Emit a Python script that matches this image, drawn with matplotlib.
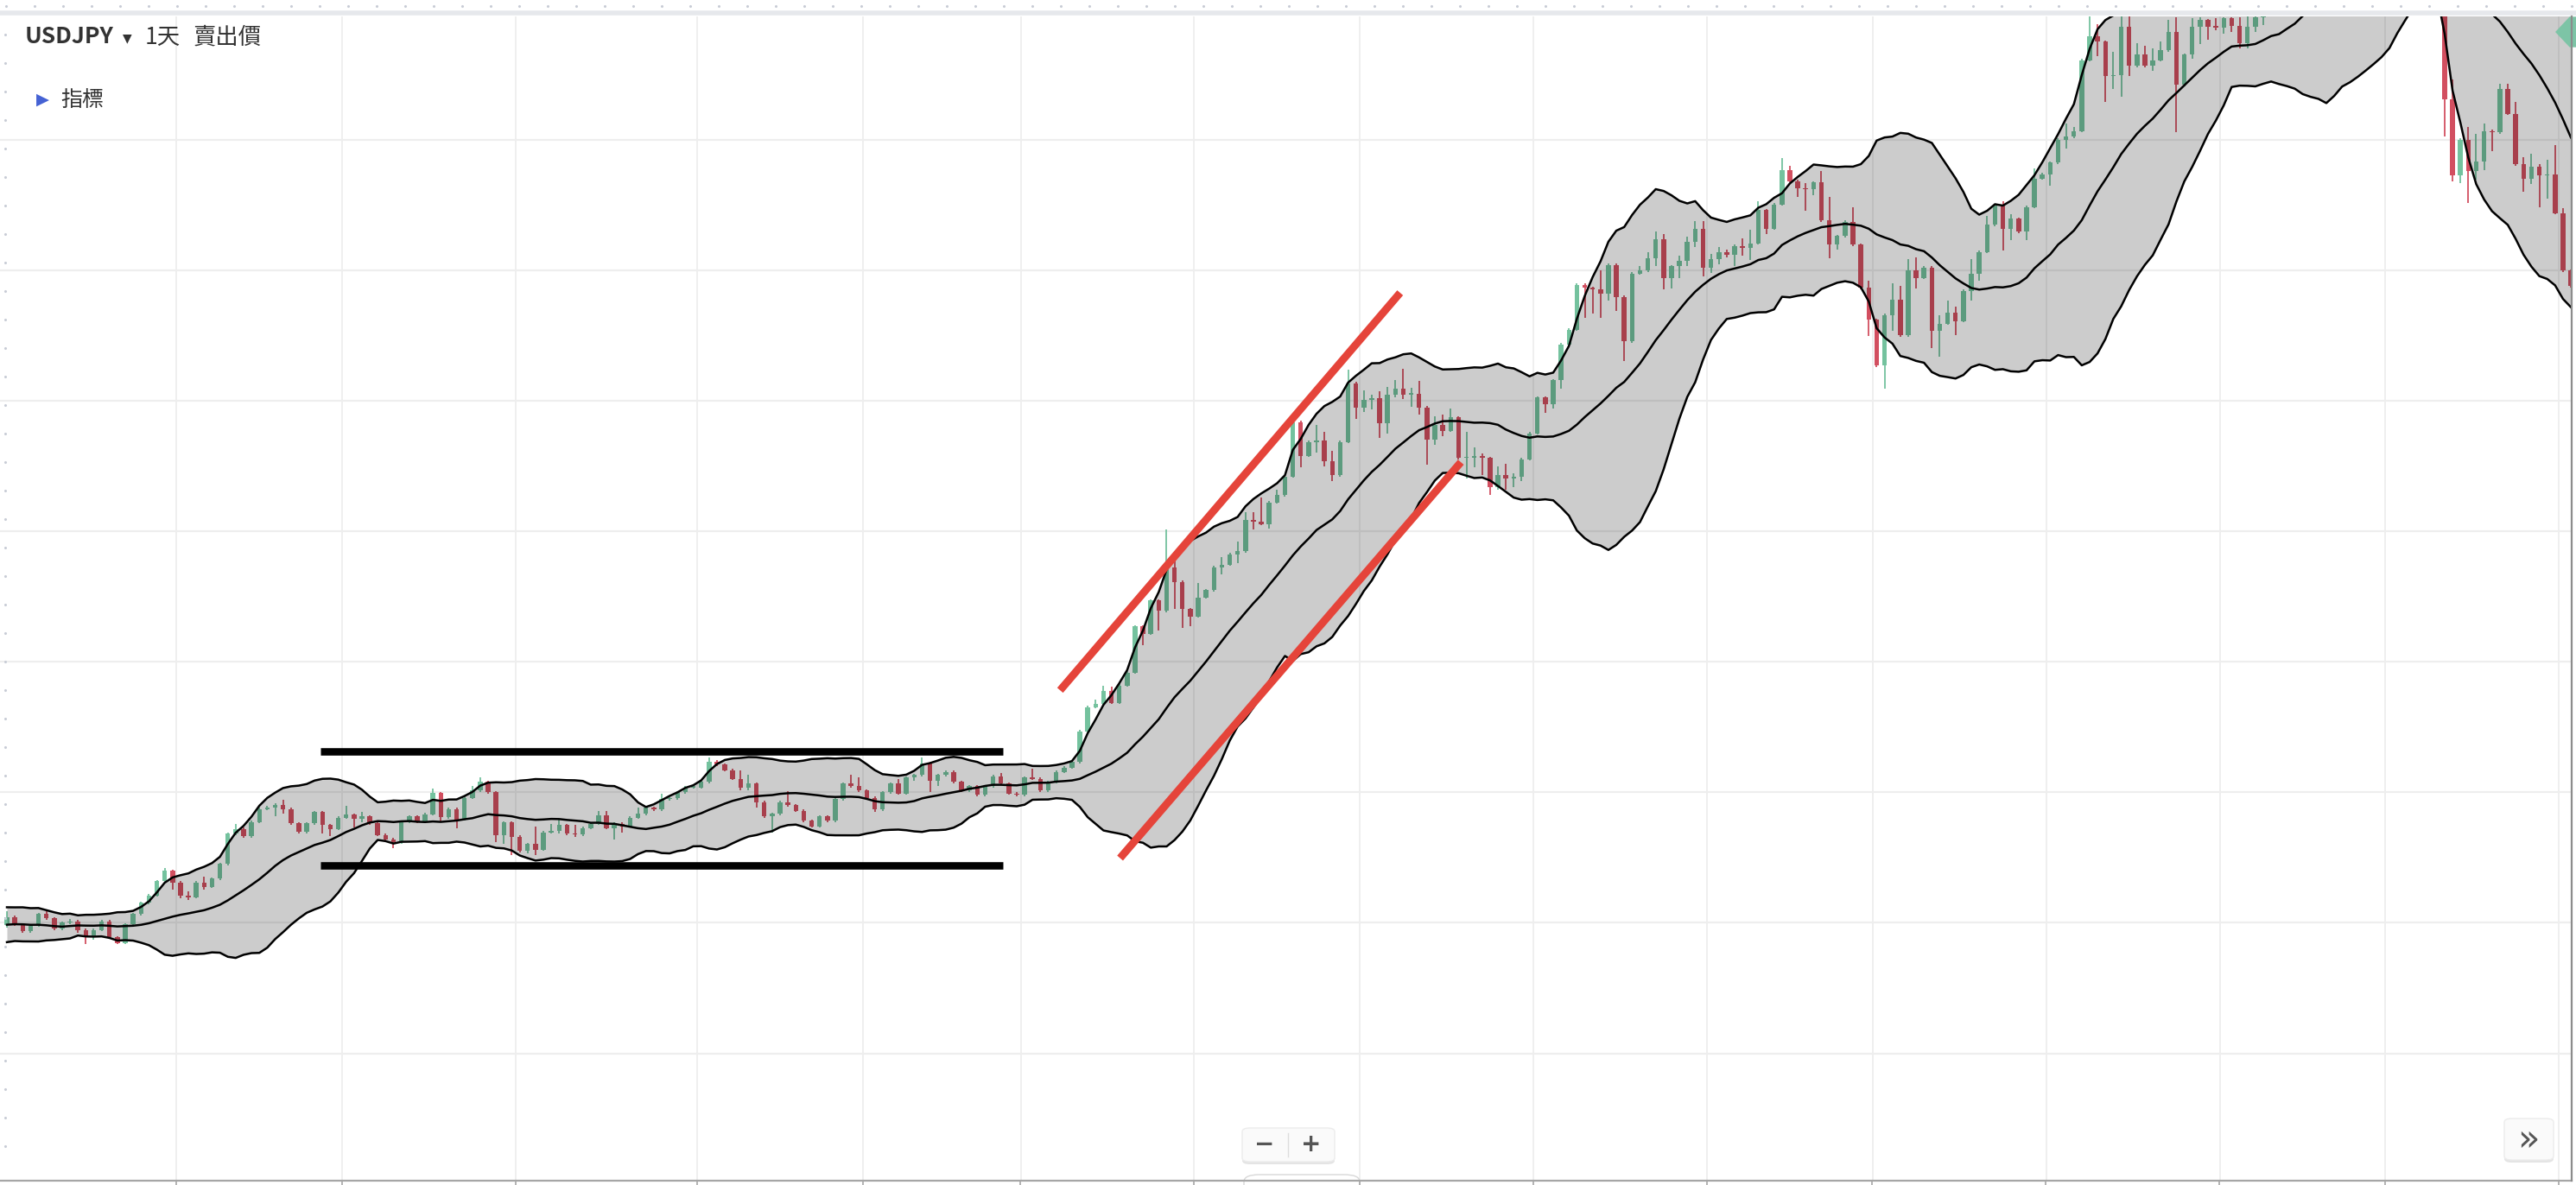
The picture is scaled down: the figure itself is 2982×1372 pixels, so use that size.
import numpy as np
import pandas as pd
import matplotlib
matplotlib.use("Agg")
import matplotlib.pyplot as plt
from matplotlib.patches import FancyBboxPatch, Polygon
from matplotlib.lines import Line2D

plt.rcParams['font.family'] = ['Noto Sans CJK TC', 'DejaVu Sans']

# USDJPY daily closes, index 0 = first visible candle (Sep 2021)
warmup_closes = [109.55, 109.78, 110.25, 110.30, 110.58, 110.42, 110.38, 109.60, 109.25, 109.60,
                 109.78, 109.80, 109.78, 109.72, 109.70, 110.02, 110.08, 109.85, 109.90]

closes = [
    110.22, 109.94, 109.67, 109.89, 110.33, 110.17, 109.78, 110.00, 110.06, 109.72,
    109.45, 109.72, 110.06, 109.45, 109.23, 109.94, 110.33, 110.77, 111.05, 111.60,
    111.99, 111.55, 111.05, 110.99, 111.55, 111.38, 111.69, 112.26, 113.42, 113.59,
    113.31, 113.86, 114.36, 114.42, 114.53, 114.36, 113.81, 113.48, 113.81, 114.25,
    113.75, 113.59, 114.03, 114.14, 113.97, 114.08, 113.81, 113.37, 113.20, 113.09,
    113.86, 114.08, 113.86, 114.16, 114.97, 114.05, 114.35, 113.96, 114.79, 115.07,
    115.40, 115.01, 113.36, 113.85, 113.30, 112.75, 113.02, 112.80, 113.47, 113.52,
    113.74, 113.41, 113.38, 113.63, 113.80, 114.13, 113.63, 113.80, 113.69, 114.02,
    114.18, 114.40, 114.35, 114.74, 114.77, 115.01, 115.18, 115.18, 115.40, 116.17,
    116.06, 115.84, 115.51, 115.18, 115.34, 114.62, 114.07, 114.18, 114.62, 114.51,
    114.29, 113.91, 113.69, 114.07, 113.91, 114.74, 115.34, 115.23, 115.07, 114.79,
    114.35, 115.01, 115.34, 114.96, 115.56, 115.67, 116.11, 115.45, 115.67, 115.78,
    115.40, 115.07, 115.23, 114.90, 115.23, 115.62, 115.34, 114.96, 114.90, 115.56,
    115.51, 115.07, 115.40, 115.78, 115.95, 116.17, 117.33, 118.27, 118.38, 118.87,
    118.43, 119.09, 119.59, 121.36, 121.08, 122.35, 121.96, 123.62, 123.07, 122.02,
    121.74, 122.46, 122.74, 123.62, 123.73, 124.12, 124.23, 125.44, 125.36, 125.28,
    126.10, 126.38, 127.10, 129.19, 127.90, 128.42, 128.48, 127.70, 127.15, 128.42,
    130.68, 129.75, 130.02, 130.10, 129.14, 130.24, 130.46, 130.24, 130.28, 129.75,
    128.53, 129.08, 128.86, 129.36, 127.81, 127.81, 127.87, 127.81, 126.71, 127.15,
    127.04, 127.10, 127.76, 128.75, 130.13, 129.86, 130.79, 132.17, 132.73, 134.44,
    134.33, 134.27, 134.11, 135.20, 133.99, 132.28, 134.88, 134.99, 135.48, 136.20,
    134.71, 135.15, 135.37, 136.10, 136.60, 135.10, 135.43, 135.70, 135.60, 135.93,
    135.85, 136.04, 137.31, 136.60, 137.53, 138.85, 138.41, 138.13, 138.10, 138.36,
    136.92, 135.98, 136.31, 136.86, 135.98, 134.33, 133.11, 131.35, 133.28, 133.89,
    132.51, 134.99, 134.71, 135.10, 132.67, 132.95, 133.39, 133.06, 134.22, 134.88,
    135.71, 136.75, 137.47, 136.60, 136.98, 136.49, 137.42, 138.52, 138.69, 139.13,
    140.01, 140.12, 140.34, 143.05, 143.98, 143.76, 142.44, 142.49, 144.32, 142.83,
    143.27, 142.83, 143.05, 143.43, 144.15, 142.11, 143.27, 144.32, 144.59, 144.32,
    144.30, 144.65, 144.37, 143.71, 144.32, 144.70, 145.30, 145.70, 145.80, 146.90,
    147.20, 148.70, 148.90, 149.20, 149.90, 150.20, 147.60, 149.00, 148.00, 146.40,
    146.30, 147.50, 148.70, 148.20, 147.90, 148.30, 146.60, 146.60, 146.40, 141.56,
    138.63, 140.01, 138.80, 139.18, 140.34, 140.29, 141.94, 141.00, 139.07, 138.52,
    138.96, 138.63, 138.69, 137.20, 134.99, 134.40,
]

# wick length above / below the body (yen)
wick_up = [
    0.22, 0.05, 0.05, 0.05, 0.05, 0.10, 0.05, 0.05, 0.10, 0.05,
    0.05, 0.05, 0.05, 0.05, 0.05, 0.05, 0.05, 0.05, 0.05, 0.05,
    0.10, 0.05, 0.05, 0.17, 0.05, 0.22, 0.05, 0.05, 0.05, 0.20,
    0.05, 0.05, 0.05, 0.05, 0.05, 0.19, 0.05, 0.05, 0.05, 0.05,
    0.05, 0.05, 0.05, 0.33, 0.05, 0.17, 0.05, 0.05, 0.05, 0.05,
    0.05, 0.05, 0.05, 0.05, 0.17, 0.05, 0.05, 0.05, 0.05, 0.17,
    0.17, 0.05, 0.05, 0.05, 0.05, 0.05, 0.05, 0.66, 0.05, 0.28,
    0.22, 0.05, 0.33, 0.05, 0.05, 0.14, 0.14, 0.05, 0.05, 0.05,
    0.22, 0.05, 0.05, 0.19, 0.05, 0.05, 0.05, 0.05, 0.05, 0.17,
    0.05, 0.05, 0.05, 0.33, 0.33, 0.05, 0.05, 0.05, 0.05, 0.44,
    0.05, 0.05, 0.05, 0.05, 0.05, 0.05, 0.05, 0.33, 0.33, 0.05,
    0.05, 0.05, 0.05, 0.17, 0.05, 0.05, 0.22, 0.05, 0.05, 0.05,
    0.05, 0.05, 0.05, 0.05, 0.05, 0.05, 0.11, 0.05, 0.05, 0.05,
    0.33, 0.05, 0.05, 0.05, 0.05, 0.05, 0.05, 0.05, 0.17, 0.22,
    0.17, 0.05, 0.05, 0.05, 0.05, 0.05, 0.05, 1.44, 0.33, 0.05,
    0.05, 0.55, 0.05, 0.05, 0.28, 0.05, 0.39, 0.28, 0.28, 0.94,
    0.05, 0.22, 0.05, 0.17, 0.05, 0.05, 0.61, 0.33, 0.39, 0.05,
    0.50, 0.05, 0.39, 0.14, 0.28, 0.28, 0.33, 0.77, 0.22, 0.50,
    0.05, 0.33, 0.39, 0.33, 0.05, 1.00, 0.36, 0.11, 0.05, 0.33,
    0.44, 0.11, 0.05, 0.05, 0.05, 0.05, 0.05, 0.05, 0.05, 0.05,
    0.05, 0.05, 0.72, 0.05, 0.05, 0.05, 0.05, 0.17, 0.20, 0.30,
    0.20, 0.05, 0.20, 0.20, 0.30, 0.30, 0.20, 0.20, 0.10, 0.05,
    0.30, 0.50, 0.33, 0.05, 0.05, 0.44, 0.17, 0.05, 0.20, 0.05,
    0.44, 0.88, 0.05, 0.05, 0.55, 0.05, 0.28, 0.05, 0.05, 0.61,
    0.50, 0.44, 0.50, 0.05, 0.05, 0.33, 0.44, 0.22, 0.05, 0.55,
    0.05, 0.33, 0.05, 0.17, 0.17, 0.05, 0.05, 0.39, 0.05, 0.05,
    0.05, 0.50, 0.17, 0.05, 0.77, 0.44, 0.05, 0.88, 0.44, 0.44,
    0.44, 0.33, 0.44, 0.33, 0.44, 0.55, 0.05, 0.33, 0.11, 0.05,
    0.33, 0.05, 0.05, 0.33, 0.44, 0.20, 0.30, 0.30, 0.30, 0.30,
    0.30, 0.30, 0.30, 0.30, 0.30, 1.70, 0.30, 0.30, 0.30, 0.30,
    0.30, 0.30, 0.30, 0.30, 0.30, 0.30, 0.30, 0.30, 0.30, 0.30,
    0.77, 0.05, 0.50, 1.05, 0.28, 0.05, 0.22, 0.22, 0.44, 0.28,
    0.50, 0.11, 0.55, 1.10, 0.17, 0.05,
]
wick_dn = [
    0.10, 0.05, 0.05, 0.05, 0.05, 0.05, 0.05, 0.05, 0.05, 0.10,
    0.27, 0.10, 0.05, 0.05, 0.05, 0.05, 0.05, 0.05, 0.05, 0.05,
    0.05, 0.27, 0.10, 0.10, 0.05, 0.11, 0.05, 0.05, 0.05, 0.05,
    0.05, 0.05, 0.05, 0.05, 0.33, 0.17, 0.05, 0.05, 0.05, 0.05,
    0.33, 0.27, 0.05, 0.05, 0.33, 0.11, 0.05, 0.05, 0.05, 0.22,
    0.05, 0.05, 0.05, 0.05, 0.05, 0.17, 0.05, 0.33, 0.05, 0.05,
    0.05, 0.05, 0.28, 0.33, 0.72, 0.05, 0.10, 0.22, 0.05, 0.05,
    0.11, 0.05, 0.08, 0.05, 0.05, 0.05, 0.05, 0.44, 0.22, 0.05,
    0.05, 0.05, 0.05, 0.05, 0.05, 0.05, 0.05, 0.05, 0.05, 0.05,
    0.05, 0.05, 0.05, 0.11, 0.11, 0.22, 0.05, 0.60, 0.05, 0.05,
    0.05, 0.05, 0.05, 0.05, 0.05, 0.05, 0.05, 0.05, 0.05, 0.05,
    0.10, 0.05, 0.05, 0.05, 0.05, 0.11, 0.05, 0.44, 0.22, 0.05,
    0.05, 0.05, 0.05, 0.05, 0.05, 0.05, 0.05, 0.05, 0.05, 0.05,
    0.05, 0.05, 0.05, 0.05, 0.05, 0.05, 0.05, 0.05, 0.05, 0.05,
    0.05, 0.05, 0.05, 0.05, 0.44, 0.05, 0.77, 0.05, 1.05, 0.72,
    0.39, 0.05, 0.05, 0.05, 0.28, 0.05, 0.33, 0.05, 0.30, 0.05,
    0.17, 0.05, 0.05, 0.05, 0.44, 0.05, 0.39, 0.22, 0.22, 0.05,
    0.05, 0.44, 0.17, 0.36, 0.55, 0.39, 0.11, 0.17, 0.48, 0.28,
    0.99, 0.22, 0.22, 0.05, 0.05, 0.77, 0.36, 0.66, 0.33, 0.11,
    0.44, 0.33, 0.17, 0.05, 0.05, 0.33, 0.17, 0.33, 0.05, 0.05,
    1.16, 0.94, 0.94, 0.28, 0.55, 0.77, 0.05, 0.05, 0.05, 0.30,
    0.44, 0.39, 0.44, 0.20, 0.20, 0.33, 0.20, 0.20, 0.10, 0.44,
    0.28, 0.44, 0.05, 0.22, 0.05, 0.05, 0.05, 0.33, 0.80, 0.22,
    0.05, 0.50, 0.17, 0.05, 0.05, 0.05, 0.61, 0.05, 0.88, 0.61,
    0.05, 0.05, 0.39, 0.05, 0.66, 0.99, 0.05, 0.55, 0.05, 0.39,
    0.28, 0.05, 0.05, 0.83, 0.44, 0.05, 0.33, 0.05, 0.05, 0.44,
    0.05, 0.33, 0.05, 0.05, 0.05, 0.55, 0.99, 0.50, 0.83, 0.39,
    0.05, 0.05, 0.17, 0.05, 0.05, 1.82, 0.05, 0.17, 0.66, 0.50,
    0.11, 0.22, 0.22, 0.22, 0.22, 0.20, 0.30, 0.30, 0.30, 0.30,
    0.30, 0.30, 0.30, 0.30, 0.30, 0.30, 0.30, 0.30, 0.30, 0.30,
    0.30, 0.30, 0.30, 0.30, 0.30, 0.30, 0.30, 0.30, 0.30, 1.43,
    0.22, 0.28, 1.21, 0.33, 0.33, 0.72, 0.05, 0.05, 0.05, 0.50,
    0.22, 1.21, 0.88, 0.05, 0.05, 0.05,
]

# first candle of each month (vertical grid)
month_starts = [22, 43, 65, 88, 109, 129, 151, 172, 194, 216, 237, 259, 281, 302, 324]
price_grid = [105, 110, 115, 120, 125, 130, 135, 140]

# drawn annotations: (x0, y0, x1, y1) in candle index / price
range_top = (39.8, 116.58, 126.2, 116.58)
range_bottom = (39.8, 112.20, 126.2, 112.20)
trend_upper = (133.5, 118.91, 176.6, 134.14)
trend_lower = (141.1, 112.48, 184.3, 127.65)

W, H = 2982, 1372
fig = plt.figure(figsize=(W / 100, H / 100), dpi=100)
fig.patch.set_facecolor('white')


def fx(px):
    return px / W


def fy(py):
    return 1 - py / H


ax = fig.add_axes([0, fy(1367), fx(2977), fy(19) - fy(1367)])
ax.set_xlim(-0.876, 325.1)
ax.set_ylim(100.12, 144.73)
for s in ax.spines.values():
    s.set_visible(False)
ax.set_xticks([])
ax.set_yticks([])

for m in month_starts:
    ax.axvline(m - 0.5, color='#eeeeee', lw=1.3, zorder=0)
for g in price_grid:
    ax.axhline(g, color='#eeeeee', lw=1.6, zorder=0)

all_close = pd.Series(warmup_closes + closes)
mid = all_close.rolling(20).mean()
sd = all_close.rolling(20).std(ddof=0)
n0 = len(warmup_closes)
c = np.array(closes)
o = np.array(all_close.shift(1).iloc[n0:])
x = np.arange(len(c))
mid = mid.iloc[n0:].values
upper = mid + 2 * sd.iloc[n0:].values
lower = mid - 2 * sd.iloc[n0:].values

green, red = '#74c29e', '#d24f60'
cols = np.where(c >= o, green, red)
top = np.maximum(o, c)
bot = np.minimum(o, c)
hi = top + np.array(wick_up)
lo = bot - np.array(wick_dn)
ax.vlines(x, lo, hi, colors=cols, lw=1.3, zorder=2)
ax.bar(x, np.maximum(top - bot, 0.05), bottom=bot, width=0.6, color=cols, lw=0, zorder=2)

ax.fill_between(x, lower, upper, color='black', alpha=0.2, lw=0, zorder=3)
for band in (upper, mid, lower):
    ax.plot(x, band, color='black', lw=1.8, zorder=4)

for seg in (range_top, range_bottom):
    ax.plot([seg[0], seg[2]], [seg[1], seg[3]], color='black', lw=6.2,
            solid_capstyle='butt', zorder=5)
for seg in (trend_upper, trend_lower):
    ax.plot([seg[0], seg[2]], [seg[1], seg[3]], color='#e5443a', lw=6.4,
            solid_capstyle='butt', zorder=5)

# ---- chrome around the chart ----
fig.add_artist(Line2D([0, 1], [fy(15), fy(15)], color='#e6e8ec', lw=4))
dots_x = np.arange(7, W, 33)
fig.add_artist(Line2D(fx(dots_x), [fy(7)] * len(dots_x), ls='none', marker='o',
                      ms=2.2, color='#c8ccd6', mec='none'))
dots_y = np.arange(40, H - 20, 33)
fig.add_artist(Line2D([fx(6)] * len(dots_y), fy(dots_y), ls='none', marker='o',
                      ms=2.2, color='#c8ccd6', mec='none'))
fig.add_artist(Line2D([0, fx(2977)], [fy(1367), fy(1367)], color='#a6a6a6', lw=1.6))
fig.add_artist(Line2D([fx(2977), fx(2977)], [fy(19), fy(1367)], color='#8c8c8c', lw=1.6))
for m in month_starts:
    xp = 8 + 9.13 * (m - 0.5)
    fig.add_artist(Line2D([fx(xp), fx(xp)], [fy(1367), fy(1372)], color='#a6a6a6', lw=1.2))

fig.add_artist(Polygon([[fx(2959), fy(37)], [fx(2975), fy(20)], [fx(2982), fy(20)],
                        [fx(2982), fy(54)], [fx(2975), fy(54)]],
                       closed=True, color='#7dc4a6', transform=fig.transFigure))

fig.text(fx(29), fy(43), 'USDJPY', fontsize=19, weight='bold', color='#333333',
         va='center', ha='left')
fig.text(fx(142), fy(44), '▼', fontsize=10, color='#333333', va='center', ha='left',
         family=['DejaVu Sans'])
fig.text(fx(168), fy(43), '1天', fontsize=19, color='#333333', va='center', ha='left')
fig.text(fx(224), fy(43), '賣出價', fontsize=19, color='#333333', va='center', ha='left')
fig.text(fx(42), fy(115), '▶', fontsize=14, color='#4562d4', va='center', ha='left',
         family=['DejaVu Sans'])
fig.text(fx(70), fy(116), '指標', fontsize=18, color='#333333', va='center', ha='left')


def button(x0, y0, x1, y1):
    fig.add_artist(FancyBboxPatch((fx(x0), fy(y1 + 3)), fx(x1 - x0), fy(y0) - fy(y1),
                                  boxstyle='round,pad=0,rounding_size=0.003',
                                  transform=fig.transFigure, fc='#e4e4e4', ec='none'))
    fig.add_artist(FancyBboxPatch((fx(x0), fy(y1)), fx(x1 - x0), fy(y0) - fy(y1),
                                  boxstyle='round,pad=0,rounding_size=0.003',
                                  transform=fig.transFigure, fc='#fafafa', ec='#ececec', lw=1))


button(1438, 1306, 1545, 1345)
fig.add_artist(Line2D([fx(1491), fx(1491)], [fy(1312), fy(1339)], color='#dddddd', lw=1))
fig.text(fx(1464), fy(1325), '−', fontsize=20, weight='bold', color='#555555', ha='center',
         va='center', family=['DejaVu Sans'])
fig.text(fx(1518), fy(1325), '+', fontsize=20, weight='bold', color='#555555', ha='center',
         va='center', family=['DejaVu Sans'])
button(2899, 1295, 2956, 1343)
fig.text(fx(2927), fy(1320), '»', fontsize=30, color='#555555', ha='center', va='center',
         family=['DejaVu Sans'])
fig.add_artist(FancyBboxPatch((fx(1440), fy(1380)), fx(134), fy(1360) - fy(1380),
                              boxstyle='round,pad=0,rounding_size=0.006',
                              transform=fig.transFigure, fc='white', ec='#d8d8d8', lw=1))

fig.savefig('out.png', dpi=100, facecolor='white')
